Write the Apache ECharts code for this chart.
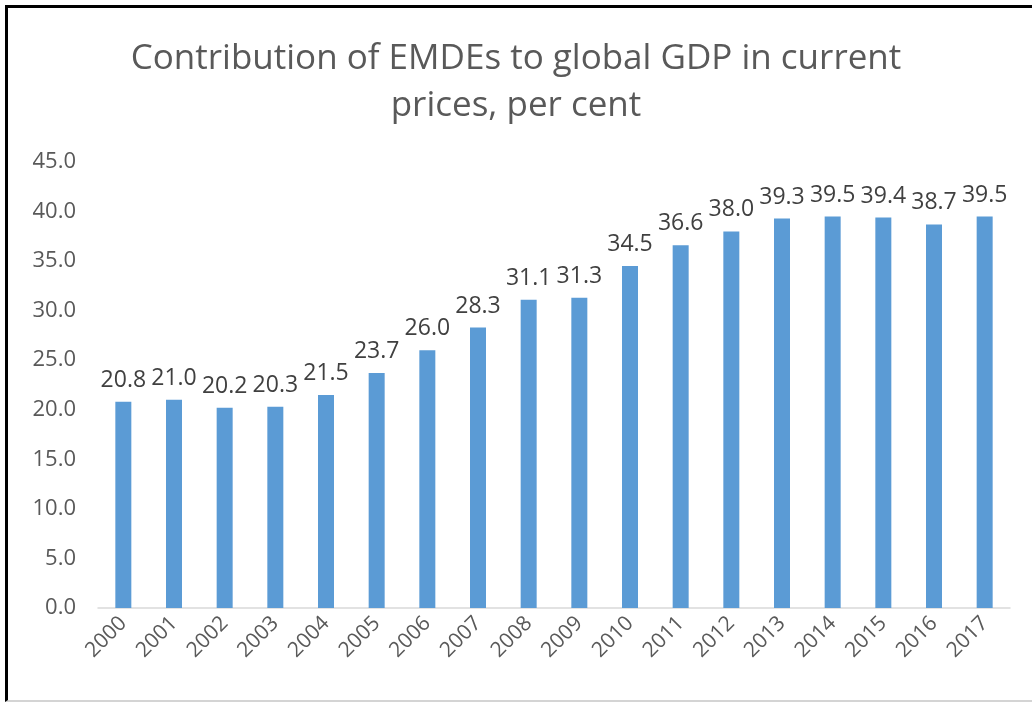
<!DOCTYPE html>
<html>

<head>
	<meta charset="utf-8" />
	<title>Contribution of EMDEs to global GDP</title>
	<script src="https://cdn.jsdelivr.net/npm/echarts@6/dist/echarts.min.js"></script>
	<style>
		html, body { margin: 0; padding: 0; background: #fff; overflow: hidden; }
		#frame {
			position: absolute; left: 5px; top: 5px; width: 1040px; height: 692px;
			border-left: 3px solid #000; border-top: 3px solid #000; border-bottom: 2px solid #d4d4d4;
		}
		#main { position: absolute; left: 0; top: 0; width: 1032px; height: 705px; }
	</style>
</head>

<body>
	<div id="frame"></div>
	<div id="main"></div>
	<script type="text/javascript">
		// years and EMDE share of world GDP (%)
		var years = ['2000', '2001', '2002', '2003', '2004', '2005', '2006', '2007', '2008',
			'2009', '2010', '2011', '2012', '2013', '2014', '2015', '2016', '2017'];
		var shares = [20.8, 21.0, 20.2, 20.3, 21.5, 23.7, 26.0, 28.3, 31.1,
			31.3, 34.5, 36.6, 38.0, 39.3, 39.5, 39.4, 38.7, 39.5];

		var font = '"Open Sans", "Liberation Sans", sans-serif';
		var myChart = echarts.init(document.getElementById('main'));

		var option = {
			animation: false,
			title: {
				text: 'Contribution of EMDEs to global GDP in current\nprices, per cent',
				left: 'center',
				top: 31,
				textStyle: {
					fontFamily: font,
					fontSize: 35,
					fontWeight: 'normal',
					color: '#595959',
					lineHeight: 47
				}
			},
			grid: { left: 98, right: 22, top: 162, bottom: 97 },
			xAxis: {
				type: 'category',
				data: years,
				axisLine: { lineStyle: { color: '#d9d9d9', width: 1.5 } },
				axisTick: { show: false },
				axisLabel: {
					rotate: 45,
					margin: 12,
					fontFamily: font,
					fontSize: 21,
					color: '#595959'
				}
			},
			yAxis: {
				type: 'value',
				min: 0,
				max: 45,
				interval: 5,
				splitLine: { show: false },
				axisLine: { show: false },
				axisTick: { show: false },
				axisLabel: {
					margin: 22,
					fontFamily: font,
					fontSize: 22,
					color: '#595959',
					formatter: function (v) { return v.toFixed(1); }
				}
			},
			series: [{
				type: 'bar',
				data: shares,
				barWidth: 16,
				itemStyle: { color: '#5b9bd5' },
				label: {
					show: true,
					position: 'top',
					distance: 10,
					fontFamily: font,
					fontSize: 23,
					color: '#404040',
					formatter: function (p) { return p.value.toFixed(1); }
				}
			}]
		};

		myChart.setOption(option);
	</script>
</body>

</html>
